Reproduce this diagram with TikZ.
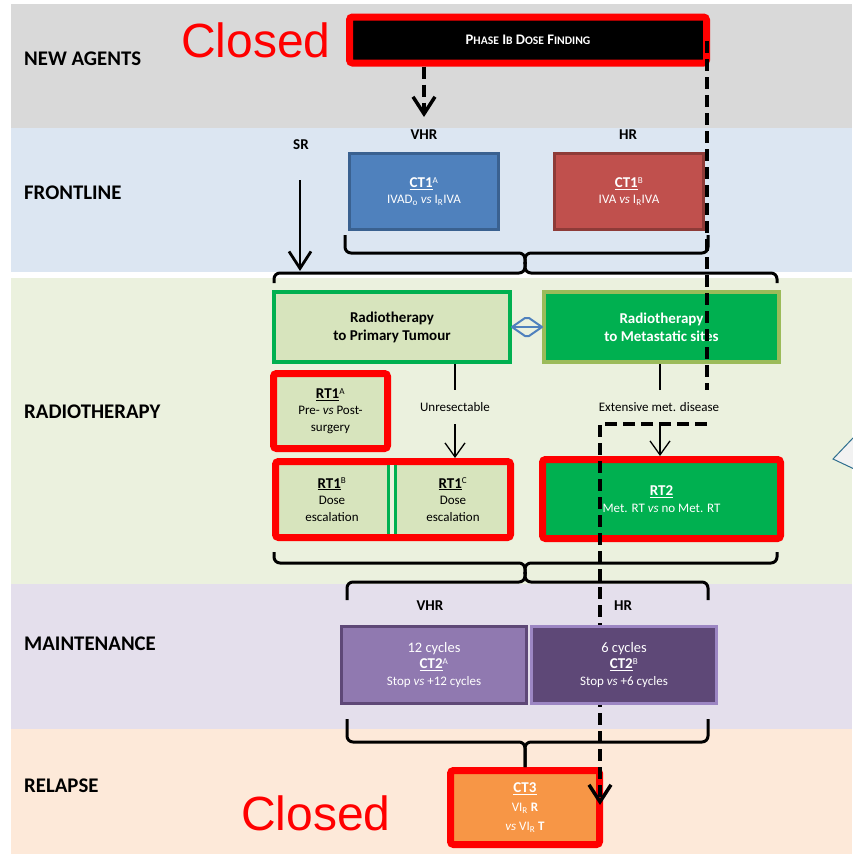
\documentclass[tikz,border=0pt]{standalone}
\usepackage{fontspec}
\setmainfont{Carlito}
\newfontfamily\arialfont{Liberation Sans}
\usetikzlibrary{arrows.meta,calc}

\definecolor{bandgray}{HTML}{D9D9D9}
\definecolor{bandblue}{HTML}{DCE6F2}
\definecolor{bandgreen}{HTML}{EBF1DE}
\definecolor{bandpurple}{HTML}{E4DFEC}
\definecolor{bandorange}{HTML}{FDE9D9}
\definecolor{ctblue}{HTML}{4F81BD}
\definecolor{ctblueedge}{HTML}{3A6190}
\definecolor{ctred}{HTML}{C0504D}
\definecolor{ctrededge}{HTML}{8E3B38}
\definecolor{rtlight}{HTML}{D7E4BD}
\definecolor{rtgreen}{HTML}{00B050}
\definecolor{rtolive}{HTML}{9BBB59}
\definecolor{mtlight}{HTML}{9079B0}
\definecolor{mtdark}{HTML}{5E4877}
\definecolor{mtedge}{HTML}{9C86C3}
\definecolor{ctorange}{HTML}{F79646}
\definecolor{trifill}{HTML}{F2F2F2}
\definecolor{triedge}{HTML}{2E6E8E}

% small capitals built by hand
\newcommand\smc[1]{{\fontsize{11.6}{13}\selectfont #1}}
\newcommand\ttl[1]{{\bfseries\fontsize{15}{17}\selectfont\underline{#1}}}
\newcommand\bracepair[6]{%
  \draw[bracestyle] (#1,#4) -- (#1,#5) -- (#3,#5) -- (#3,#6);
  \draw[bracestyle] (#2,#4) -- (#2,#5) -- (#3,#5) -- (#3,#6);}

\begin{document}
\begin{tikzpicture}[x=1pt,y=-1pt,
  bandlabel/.style={anchor=west, inner sep=0pt, font=\bfseries\fontsize{20.8}{23}\selectfont},
  riskhead/.style={font=\bfseries\fontsize{15}{17}\selectfont},
  closedlbl/.style={anchor=base west, inner sep=0pt, text=red, font=\arialfont\fontsize{48}{50}\selectfont},
  boxbase/.style={rectangle, align=center, inner sep=2pt, font=\fontsize{13}{16.5}\selectfont},
  redframe/.style={boxbase, draw=red, line width=7pt, rounded corners=3pt},
  plainbox/.style={boxbase, line width=3pt},
  rtbox/.style={boxbase, line width=4pt, font=\bfseries\fontsize{15}{18}\selectfont},
  condlbl/.style={inner sep=0pt, minimum height=34pt, font=\fontsize{13}{15}\selectfont},
  bracestyle/.style={draw=black, line width=3pt, rounded corners=6pt},
  thinarrow/.style={draw=black, line width=1.3pt, -{Straight Barb[length=14pt,width=20pt]}},
  thinline/.style={draw=black, line width=1.3pt},
  srarrow/.style={draw=black, line width=2.8pt, -{Straight Barb[length=17pt,width=22pt]}},
  dashline/.style={draw=black, line width=3.5pt, dash pattern=on 12pt off 6pt},
  dasharrow/.style={dashline, -{Straight Barb[length=17pt,width=22pt]}},
  linkarrow/.style={draw=ctblue, line width=2pt}
]
\useasboundingbox (0,0) rectangle (852,854);

% horizontal bands
\fill[bandgray]   (11,4)   rectangle (852,128);
\fill[bandblue]   (11,128) rectangle (852,272);
\fill[bandgreen]  (11,278) rectangle (852,584);
\fill[bandpurple] (11,584) rectangle (852,729);
\fill[bandorange] (11,729) rectangle (852,854);

% callout tip at the right edge
\filldraw[fill=trifill, draw=triedge, line width=1pt] (833,459) -- (862,428.5) -- (862,472.7) -- cycle;

% band titles
\node[bandlabel] (lnew)  at (24,59)  {NEW AGENTS};
\node[bandlabel] (lfront) at (24,193) {FRONTLINE};
\node[bandlabel] (lrt)   at (24,412) {RADIOTHERAPY};
\node[bandlabel] (lmnt)  at (24,644) {MAINTENANCE};
\node[bandlabel] (lrel)  at (24,786) {RELAPSE};

% closed notes
\node[closedlbl] (closedtop) at (181,57) {Closed};
\node[closedlbl] (closedbot) at (241,830) {Closed};

% new agents
\node[redframe, fill=black, text=white, minimum width=357pt, minimum height=46pt,
      font=\bfseries\fontsize{14.6}{16}\selectfont] (phase) at (528,40)
      {P\smc{HASE} I\smc{B} D\smc{OSE} F\smc{INDING}};

% frontline
\node[riskhead] (sr)   at (301,145) {SR};
\node[riskhead] (vhr1) at (424,135) {VHR};
\node[riskhead] (hr1)  at (628,135) {HR};
\node[plainbox, fill=ctblue, draw=ctblueedge, text=white, minimum width=149pt, minimum height=76pt] (ct1a) at (424,191.5)
  {\ttl{CT1}\textsuperscript{A}\\IVAD\textsubscript{o} \textit{vs} I\textsubscript{R}IVA};
\node[plainbox, fill=ctred, draw=ctrededge, text=white, minimum width=149pt, minimum height=76pt] (ct1b) at (629,191.5)
  {\ttl{CT1}\textsuperscript{B}\\IVA \textit{vs} I\textsubscript{R}IVA};

% radiotherapy
\node[rtbox, fill=rtlight, draw=rtgreen, minimum width=236pt, minimum height=70pt] (prim) at (392,327)
  {Radiotherapy\\to Primary Tumour};
\node[rtbox, fill=rtgreen, draw=rtolive, text=white, minimum width=235pt, minimum height=70pt] (met) at (661.5,327)
  {Radiotherapy\\to Metastatic sites};
\node[redframe, fill=rtlight, minimum width=114pt, minimum height=75pt] (rt1a) at (330.5,411)
  {\ttl{RT1}\textsuperscript{A}\\Pre- \textit{vs} Post-\\surgery};
\node[redframe, fill=rtlight, minimum width=235pt, minimum height=76pt] (rt1bc) at (393,499.5) {};
\fill[bandgreen] (389.5,465) rectangle (394.5,534);
\draw[rtgreen, line width=2.5pt] (388.5,465) -- (388.5,534) (395.5,465) -- (395.5,534);
\node[boxbase] (rt1b) at (332,499.5) {\ttl{RT1}\textsuperscript{B}\\Dose\\escalation};
\node[boxbase] (rt1c) at (453,499.5) {\ttl{RT1}\textsuperscript{C}\\Dose\\escalation};
\node[redframe, fill=rtgreen, text=white, minimum width=238pt, minimum height=79pt] (rt2) at (661.5,499)
  {\ttl{RT2}\\Met. RT \textit{vs} no Met. RT};

\node[condlbl] (unres) at (455,407) {Unresectable};
\node[condlbl] (ext)   at (659,407) {Extensive met. disease};

\draw[thinline]  (prim.south -| unres.north) -- (unres.north);
\draw[thinarrow] (unres.south) -- (unres.south |- rt1bc.north);
\draw[thinline]  (met.south -| 660,0) -- (660,0 |- ext.north);
\draw[thinarrow] (660,0 |- ext.south) -- (660,0 |- rt2.north);

% link between the two radiotherapy arms
\coordinate (dmid) at ($(prim.east)!0.5!(met.west)$);
\draw[linkarrow] (prim.east) -- (met.west);
\draw[linkarrow, line join=round] (prim.east) -- ($(dmid)+(-2,-9)$) -- ($(dmid)+(2,-9)$) -- (met.west)
  -- ($(dmid)+(2,9)$) -- ($(dmid)+(-2,9)$) -- cycle;

% relapse
\node[redframe, fill=ctorange, text=white, minimum width=149pt, minimum height=74pt,
      font=\fontsize{13}{19}\selectfont] (ct3) at (525,807.5)
  {\ttl{CT3}\\VI\textsubscript{R} \textbf{R}\\\textit{vs} VI\textsubscript{R} \textbf{T}};

% grouping braces
\bracepair{345}{708}{525}{235}{253}{264}
\bracepair{274}{777}{525}{283}{273}{262}
\bracepair{274}{777}{525}{552}{563}{574}
\bracepair{347}{708}{525}{600}{582}{572}
\bracepair{347}{708}{525}{719}{742}{767}

% standard risk path
\coordinate (srstart) at (300,180);
\coordinate (srend)   at (300,271);
\draw[srarrow] (srstart) -- (srend);

% new agent entry and crossover path
\coordinate (phasedrop) at (424,117);
\draw[dasharrow] (phase.south -| phasedrop) -- (phasedrop);
\coordinate (dtop) at (707,41);
\coordinate (dbot) at (600,805);
\draw[dashline] (dtop) -- (dtop |- ext.north);
\draw[dasharrow] (dtop |- ext.south) -| (dbot);

% maintenance (boxes sit above the crossover path)
\node[riskhead] (vhr2) at (430,606) {VHR};
\node[riskhead] (hr2)  at (623,606) {HR};
\node[plainbox, fill=mtlight, draw=mtdark, text=white, minimum width=185pt, minimum height=77pt] (ct2a) at (434,665)
  {{\fontsize{14.5}{17}\selectfont 12 cycles}\\\ttl{CT2}\textsuperscript{A}\\Stop \textit{vs} +12 cycles};
\node[plainbox, fill=mtdark, draw=mtedge, text=white, minimum width=185pt, minimum height=77pt] (ct2b) at (624,665)
  {{\fontsize{14.5}{17}\selectfont 6 cycles}\\\ttl{CT2}\textsuperscript{B}\\Stop \textit{vs} +6 cycles};
\end{tikzpicture}
\end{document}
